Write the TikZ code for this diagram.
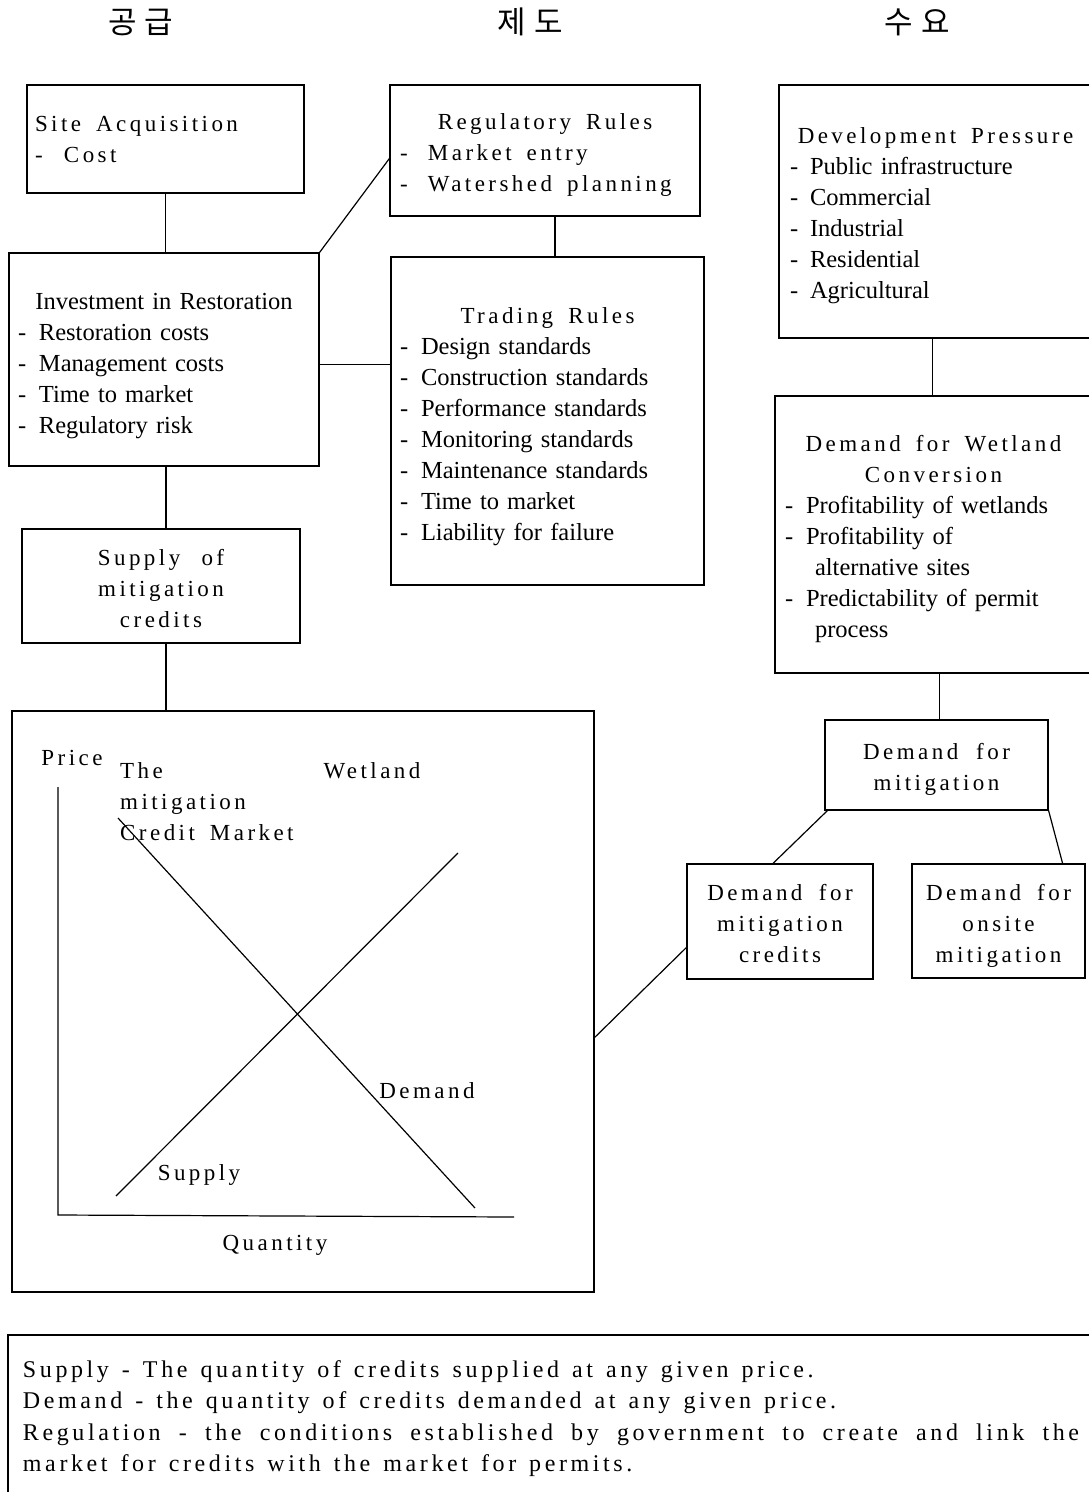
\documentclass[tikz,border=0pt]{standalone}
\usepackage{fontspec}
\setmainfont{Liberation Serif}
\newfontfamily\wfam[LetterSpace=15]{Liberation Serif}
\newfontfamily\bfam[LetterSpace=15]{Liberation Serif}
\newfontfamily\krfam{Noto Sans CJK KR}
\newcommand\wtxt{\wfam\fontsize{23}{31}\selectfont\spaceskip=15pt plus 4pt minus 3pt\relax}
\newcommand\btxt{\bfam\fontsize{24}{31.5}\selectfont\spaceskip=13pt plus 6pt minus 3pt\relax}
\newcommand\ptxt{\rmfamily\fontsize{24.5}{31}\selectfont\spaceskip=0pt\relax}
\newcommand\dsh[1]{\makebox[#1][l]{-}}
\newcommand\ctl[1]{\makebox[\linewidth]{\wtxt #1}}
\newcommand\sh[1]{\rule{0pt}{#1}}
\begin{document}
\begin{tikzpicture}[x=1pt,y=-1pt,
  box/.style={draw, line width=1.2pt, inner sep=0pt},
  wbox/.style={box, font=\wtxt, execute at begin node={\wtxt}},
  pbox/.style={box, font=\ptxt},
  conn/.style={line width=1.2pt},
  curve/.style={line width=1.2pt},
  lbl/.style={inner sep=0pt, font=\wtxt},
  kr/.style={inner sep=0pt, font=\krfam\fontsize{31}{34}\selectfont}]
\useasboundingbox (0,0) rectangle (1089,1492);

% column headers
\node[kr] (hsup) at (141,22) {공\hspace{8pt}급};
\node[kr] (hreg) at (530,22) {제\hspace{8pt}도};
\node[kr] (hdem) at (917,22) {수\hspace{8pt}요};

% supply side
\node[wbox, minimum width=277pt, minimum height=108pt, text width=261pt, align=left] (site) at (165.5,139)
  {Site Acquisition\\\dsh{29pt}Cost};
\node[pbox, minimum width=310pt, minimum height=213pt, text width=292pt, align=left] (inv) at (164,359.5)
  {\sh{29pt}\makebox[\linewidth]{Investment in Restoration}\\
   \dsh{21pt}Restoration costs\\\dsh{21pt}Management costs\\\dsh{21pt}Time to market\\\dsh{21pt}Regulatory risk};
\node[wbox, minimum width=278pt, minimum height=114pt, text width=270pt, align=center] (sup) at (161,586)
  {\sh{22pt}Supply of\\mitigation\\credits};

% regulation
\node[wbox, minimum width=310pt, minimum height=131pt, text width=290pt, align=left] (reg) at (545,150.5)
  {\sh{24pt}\ctl{Regulatory Rules}\\\dsh{28pt}Market entry\\\dsh{28pt}Watershed planning};
\node[pbox, minimum width=313pt, minimum height=328pt, text width=295pt, align=left] (trade) at (547.5,421)
  {\sh{28pt}\ctl{Trading Rules}\\
   \dsh{21pt}Design standards\\\dsh{21pt}Construction standards\\\dsh{21pt}Performance standards\\
   \dsh{21pt}Monitoring standards\\\dsh{21pt}Maintenance standards\\\dsh{21pt}Time to market\\
   \dsh{21pt}Liability for failure};

% demand side
\node[pbox, minimum width=313pt, minimum height=253pt, text width=291pt, align=left] (dev) at (935.5,211.5)
  {\sh{24pt}\ctl{Development Pressure}\\
   \dsh{20pt}Public infrastructure\\\dsh{20pt}Commercial\\\dsh{20pt}Industrial\\\dsh{20pt}Residential\\\dsh{20pt}Agricultural};
\node[pbox, minimum width=317pt, minimum height=277pt, text width=297pt, align=left] (wet) at (933.5,534.5)
  {\sh{26pt}\ctl{Demand for Wetland}\\\ctl{Conversion}\\
   \dsh{21pt}Profitability of wetlands\\\dsh{21pt}Profitability of\\\hspace*{30pt}alternative sites\\
   \dsh{21pt}Predictability of permit\\\hspace*{30pt}process};
\node[wbox, minimum width=223pt, minimum height=90pt, text width=215pt, align=center] (dm) at (936.5,765)
  {\sh{24pt}Demand for\\mitigation};
\node[wbox, minimum width=186pt, minimum height=115pt, text width=180pt, align=center] (dmc) at (780,921.5)
  {\sh{20pt}Demand for\\mitigation\\credits};
\node[wbox, minimum width=173pt, minimum height=114pt, text width=168pt, align=center] (dom) at (998.5,921)
  {\sh{26pt}Demand for\\onsite\\mitigation};

% market chart
\node[box, minimum width=582pt, minimum height=581pt] (chart) at (303,1001.5) {};
\coordinate (ytop) at (58,787);
\coordinate (orig) at (58,1215);
\coordinate (xend) at (514,1217);
\coordinate (d1) at (118,818);
\coordinate (d2) at (475,1208);
\coordinate (s1) at (116,1196);
\coordinate (s2) at (458,853);
\draw[curve] (ytop) -- (orig) -- (xend);
\draw[curve] (d1) -- (d2);
\draw[curve] (s1) -- (s2);
\node[lbl, anchor=base] (price) at (72,765) {Price};
\node[lbl, anchor=north west, align=left] (title) at (120,762) {The\\mitigation\\Credit Market};
\node[lbl, anchor=base] (wetl) at (372,778) {Wetland};
\node[lbl, anchor=base] (demlbl) at (427,1098) {Demand};
\node[lbl, anchor=base] (suplbl) at (199,1180) {Supply};
\node[lbl, anchor=base] (qty) at (275,1250) {Quantity};

% definitions
\node[box, font=\btxt, execute at begin node={\btxt}, minimum width=1086pt, minimum height=162pt, text width=1056pt, align=left] (defs) at (551,1416)
  {\sh{22pt}Supply - The quantity of credits supplied at any given price.\\
   Demand - the quantity of credits demanded at any given price.\\
   \leavevmode\hbox to \linewidth{\spaceskip=10pt plus 1fil\relax Regulation - the conditions established by government to create and link the}\\
   market for credits with the market for permits.};

% connectors
\draw[conn] (site.south) -- (site.south |- inv.north);
\draw[conn] (inv.north east) -- ([yshift=-8pt]reg.west);
\draw[conn] ([xshift=10pt]reg.south) -- ([xshift=10pt]reg.south |- trade.north);
\draw[conn] ([yshift=-5pt]inv.east) -- ([yshift=-5pt]inv.east -| trade.west);
\draw[conn] ([xshift=2pt]inv.south) -- ([xshift=2pt]inv.south |- sup.north);
\draw[conn] ([xshift=5pt]sup.south) -- ([xshift=5pt]sup.south |- chart.north);
\draw[conn] ([xshift=-3pt]dev.south) -- ([xshift=-3pt]dev.south |- wet.north);
\draw[conn] ([xshift=3pt]dm.north |- wet.south) -- ([xshift=3pt]dm.north);
\draw[conn] ([xshift=3pt]dm.south west) -- ([xshift=-7pt]dmc.north);
\draw[conn] (dm.south east) -- ([xshift=-23pt]dom.north east);
\draw[conn] ([yshift=-26pt]dmc.west) -- ([yshift=-36pt]chart.east);
\end{tikzpicture}
\end{document}
